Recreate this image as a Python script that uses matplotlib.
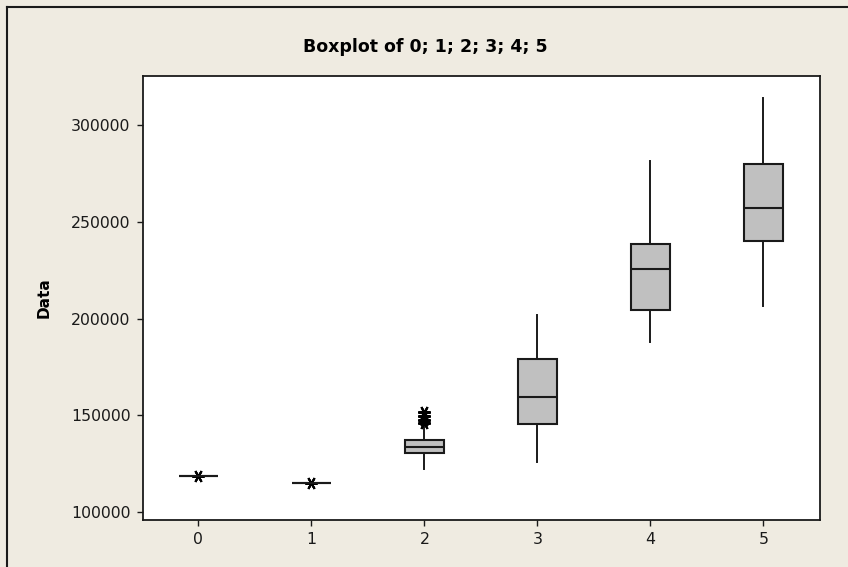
import numpy as np
import matplotlib
matplotlib.use('Agg')
import matplotlib.pyplot as plt
from matplotlib.lines import Line2D

OUTPUT_FILE = 'out.png'

# data
labels = ['0', '1', '2', '3', '4', '5']
whislo = [118700, 115000, 122200, 125800, 188000, 206500]
q1 = [118700, 115000, 130500, 145500, 204400, 240000]
med = [118700, 115000, 133600, 159400, 225600, 257100]
q3 = [118700, 115000, 137200, 179100, 238500, 279800]
whishi = [118700, 115000, 144400, 201800, 281400, 314000]
fliers = [[118400], [114800], [146000, 147500, 149500, 151500], [], [], []]

bg = '#EFEBE1'

fig = plt.figure(figsize=(8.48, 5.67), dpi=100, facecolor=bg)
ax = fig.add_axes([143/848, 1-520/567, 677/848, 444/567])
ax.set_facecolor('white')

stats = []
for i in range(len(labels)):
    stats.append(dict(label=labels[i], whislo=whislo[i], q1=q1[i], med=med[i],
                      q3=q3[i], whishi=whishi[i], fliers=fliers[i]))

ax.bxp(stats, positions=range(len(labels)), widths=0.34, patch_artist=True,
       showcaps=False,
       boxprops=dict(facecolor='#C0C0C0', edgecolor='#1a1a1a', linewidth=1.5),
       medianprops=dict(color='#1a1a1a', linewidth=1.5),
       whiskerprops=dict(color='#1a1a1a', linewidth=1.4),
       flierprops=dict(marker=(6, 2, 90), markersize=9, markeredgecolor='black',
                       markeredgewidth=1.5, linestyle='none'))

ax.set_xlim(-0.49, 5.5)
ax.set_ylim(95900, 325300)
ax.set_yticks([100000, 150000, 200000, 250000, 300000])
ax.set_yticklabels(['100000', '150000', '200000', '250000', '300000'])
ax.set_xticks(range(len(labels)))
ax.set_xticklabels(labels)
ax.tick_params(axis='both', direction='out', length=4, width=1, labelsize=11.3,
               colors='#1a1a1a', pad=5)
for s in ax.spines.values():
    s.set_linewidth(1.3)
    s.set_color('#1a1a1a')

ax.set_ylabel('Data', fontsize=11, fontweight='bold', labelpad=14)
fig.text(425/848, 1-47/567, 'Boxplot of 0; 1; 2; 3; 4; 5', fontsize=12.5,
         fontweight='bold', ha='center', va='center')

# outer frame (left and top edges)
fig.add_artist(Line2D([7/848, 7/848], [0, 1-7/567], color='#1a1a1a', lw=1.5,
                      transform=fig.transFigure))
fig.add_artist(Line2D([7/848, 1], [1-7/567, 1-7/567], color='#1a1a1a', lw=1.5,
                      transform=fig.transFigure))

fig.savefig(OUTPUT_FILE, dpi=100, facecolor=bg)
